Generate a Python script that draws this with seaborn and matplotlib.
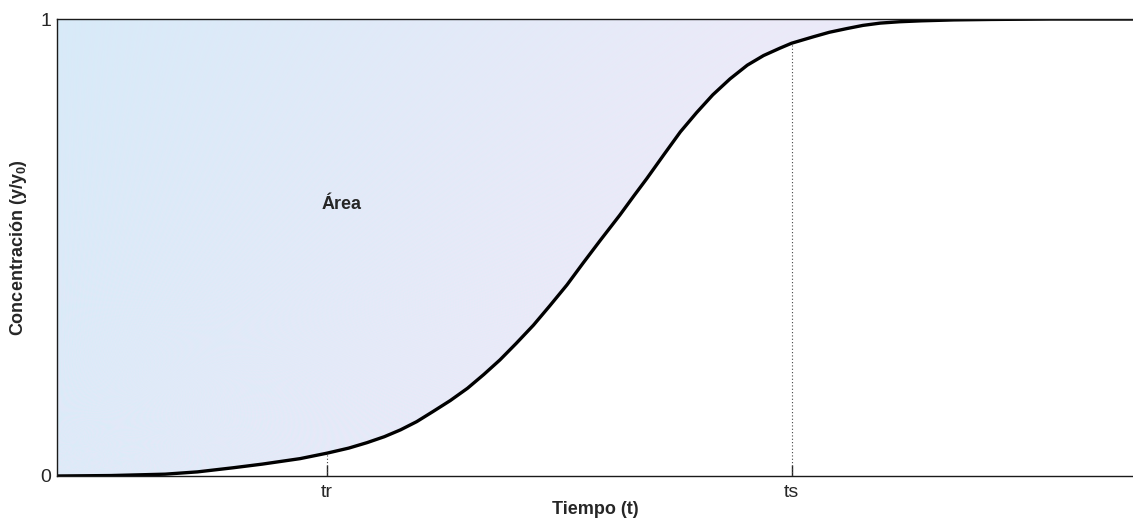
import numpy as np
import pandas as pd
import matplotlib
matplotlib.use("Agg")
import matplotlib.pyplot as plt
import seaborn as sns

# Breakthrough curve: normalised concentration against time
tiempo = [0.00, 0.50, 1.00, 1.30, 1.63, 1.90, 2.25, 2.50, 2.70, 2.87, 3.03,
          3.18, 3.33, 3.48, 3.64, 3.80, 3.95, 4.10, 4.25, 4.41, 4.56, 4.72,
          4.87, 5.03, 5.21, 5.34, 5.46, 5.62, 5.77, 5.92, 6.07, 6.23, 6.39,
          6.54, 6.69, 6.80, 7.00, 7.15, 7.31, 7.46, 7.62, 7.80, 8.00, 8.30,
          8.64, 9.20, 9.96]
concentracion = [0.000, 0.001, 0.004, 0.009, 0.018, 0.026, 0.038, 0.050, 0.061,
                 0.073, 0.086, 0.101, 0.119, 0.141, 0.165, 0.192, 0.222, 0.254,
                 0.290, 0.330, 0.372, 0.418, 0.466, 0.516, 0.571, 0.613, 0.651,
                 0.704, 0.753, 0.795, 0.834, 0.869, 0.899, 0.920, 0.936, 0.947,
                 0.961, 0.971, 0.979, 0.986, 0.991, 0.994, 0.996, 0.998, 0.999,
                 1.000, 1.000]

t_r = 2.50
t_s = 6.80
x_ticks = [t_r, t_s]
x_tick_labels = ["tr", "ts"]
y_ticks = [0, 1]
y_tick_labels = ["0", "1"]

df = pd.DataFrame({"t": tiempo, "c": concentracion})

sns.set_style("white")
plt.rcParams["font.family"] = ["Liberation Sans", "DejaVu Sans"]
plt.rcParams["mathtext.fontset"] = "custom"
plt.rcParams["mathtext.bf"] = "Liberation Sans:bold"
plt.rcParams["mathtext.rm"] = "Liberation Sans"

fig = plt.figure(figsize=(11.33, 5.2), dpi=100)
ax = fig.add_axes([57 / 1133, 1 - 476 / 520, 1 - 57 / 1133, (476 - 19) / 520])

x_max = tiempo[-1]
ax.set_xlim(0, x_max)
ax.set_ylim(0, 1)

# Shaded area between the curve and c = 1, painted with a soft gradient
poly = ax.fill_between(df["t"], df["c"], 1, color="none", linewidth=0)
nx, ny = 800, 400
gx, gy = np.meshgrid(np.linspace(0, 1, nx), np.linspace(1, 0, ny))
ang = np.arctan2(gy, gx + 1e-9)
w = np.clip(gx * 1.5 + (1 - gy) * 0.35, 0, 1)
blue = np.array([216, 234, 248]) / 255
lav = np.array([235, 234, 248]) / 255
img = blue[None, None, :] * (1 - w[..., None]) + lav[None, None, :] * w[..., None]
streak = (0.010 * np.sin(ang * 700) + 0.006 * np.sin(ang * 1900)) * np.clip(1.2 - gy, 0, 1)
img[..., 0] += streak * 1.3
img[..., 1] -= streak * 0.5
img = np.clip(img, 0, 1)
im = ax.imshow(img, extent=[0, x_max, 0, 1], aspect="auto", zorder=1,
               interpolation="bilinear")
for path in poly.get_paths():
    im.set_clip_path(path, transform=ax.transData)

sns.lineplot(data=df, x="t", y="c", ax=ax, color="black", linewidth=2.4,
             zorder=3)

# Dotted guides at tr and ts
c_r = concentracion[tiempo.index(t_r)]
c_s = concentracion[tiempo.index(t_s)]
ax.vlines([t_r, t_s], 0, [c_r, c_s], colors="#444444", linestyles=(0, (1, 2)),
          linewidth=0.8, zorder=2)

ax.text(2.63, 0.593, "Área", fontsize=13, fontweight="bold", ha="center",
        va="center", zorder=4)

ax.set_xticks(x_ticks)
ax.set_xticklabels(x_tick_labels, fontsize=14)
ax.set_yticks(y_ticks)
ax.set_yticklabels(y_tick_labels, fontsize=14)
ax.tick_params(axis="x", direction="in", length=8, width=1, color="#222222",
               pad=6, top=False, bottom=True)
ax.tick_params(axis="y", length=0, pad=4)

ax.set_xlabel("Tiempo (t)", fontsize=13, fontweight="bold", labelpad=0)
ax.set_ylabel("Concentración (y/y$_\\mathbf{0}$)", fontsize=13,
              fontweight="bold", labelpad=8)

for side in ["left", "top", "bottom"]:
    ax.spines[side].set_visible(True)
    ax.spines[side].set_color("#1a1a1a")
    ax.spines[side].set_linewidth(1.0)
    ax.spines[side].set_zorder(5)
ax.spines["right"].set_visible(False)

fig.savefig("out.png", dpi=100, facecolor="white")
